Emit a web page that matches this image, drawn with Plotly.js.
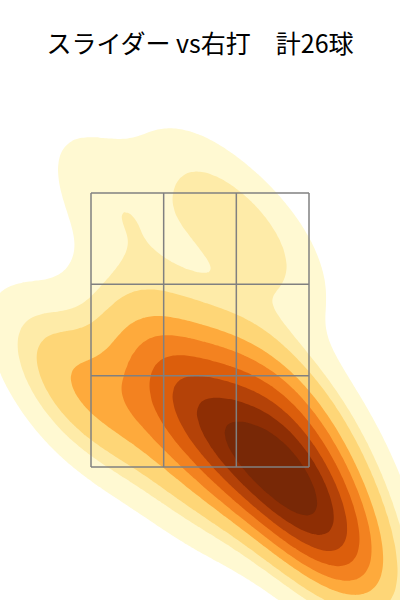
<!DOCTYPE html>
<html>
<head>
<meta charset="utf-8">
<script src="https://cdn.plot.ly/plotly-3.0.1.min.js"></script>
<style>html,body{margin:0;padding:0;background:#fff;}#chart{width:400px;height:600px;}</style>
</head>
<body>
<div id="chart"></div>
<script>
// Pitch locations (feet): horizontal plate position and height
const pitchX = [-0.65, 0.04, 0.50, -0.38, -1.10, -0.88, -0.61, -0.30, -0.04, 0.11, 0.53, 0.76, -0.15,
                0.99, 1.10, 0.00, 0.23, 0.42, 0.27, 0.50, 0.65, 0.57, 0.80, 0.76, 0.95, 1.07];
const pitchY = [3.41, 3.45, 3.08, 2.43, 2.25, 1.95, 1.99, 2.14, 2.03, 2.39, 2.10, 1.95, 1.44,
                1.48, 0.82, 1.81, 1.66, 1.77, 1.48, 1.51, 1.62, 1.26, 1.33, 1.08, 1.19, 0.93];
// Strike zone
const zoneX = [-0.83, 0.83];
const zoneY = [1.5, 3.5];
// Fill colours for the 9 density bands (low to high)
const bandColors = ['#FFF9D2', '#FEEBA8', '#FED677', '#FEAA3C', '#F38220', '#DC5E0C', '#B44208', '#8E2E04', '#782806'];
const titleText = 'スライダー vs右打　計26球';
const thresh = 0.05, nLevels = 10;

// Gaussian KDE (Scott's rule, full covariance)
const n = pitchX.length;
const mx = pitchX.reduce((a,b)=>a+b,0)/n, my = pitchY.reduce((a,b)=>a+b,0)/n;
let sxx=0, syy=0, sxy=0;
for (let i=0;i<n;i++){const dx=pitchX[i]-mx, dy=pitchY[i]-my; sxx+=dx*dx; syy+=dy*dy; sxy+=dx*dy;}
sxx/= (n-1); syy/=(n-1); sxy/=(n-1);
const f2 = Math.pow(n, -2/6);
const cxx=sxx*f2, cyy=syy*f2, cxy=sxy*f2;
const det = cxx*cyy - cxy*cxy;
const ixx = cyy/det, iyy = cxx/det, ixy = -cxy/det;
const norm = 1/(n*2*Math.PI*Math.sqrt(det));

const NX=180, NY=240, x0=-2.4, x1=2.4, y0=-0.7, y1=5.4;
const gx=[], gy=[];
for (let i=0;i<NX;i++) gx.push(x0+(x1-x0)*i/(NX-1));
for (let j=0;j<NY;j++) gy.push(y0+(y1-y0)*j/(NY-1));
const dens=[]; const flat=[];
for (let j=0;j<NY;j++){
  const row=[];
  for (let i=0;i<NX;i++){
    let s=0;
    for (let k=0;k<n;k++){
      const dx=gx[i]-pitchX[k], dy=gy[j]-pitchY[k];
      s+=Math.exp(-0.5*(ixx*dx*dx+2*ixy*dx*dy+iyy*dy*dy));
    }
    row.push(s*norm); flat.push(s*norm);
  }
  dens.push(row);
}
// iso-proportion: mass lying at lower density than each cell
const sorted = flat.slice().sort((a,b)=>a-b);
const total = sorted.reduce((a,b)=>a+b,0);
const cum = new Array(sorted.length);
let acc=0;
for (let i=0;i<sorted.length;i++){ cum[i]=acc/total; acc+=sorted[i]; }
function propOf(v){
  let lo=0, hi=sorted.length-1;
  while(lo<hi){const mid=(lo+hi+1)>>1; if(sorted[mid]<=v) lo=mid; else hi=mid-1;}
  return cum[lo];
}
const zq = dens.map(r=>r.map(propOf));

const step = (1-thresh)/(nLevels-1);
const cs = [[0,'#ffffff']];
bandColors.forEach((c,i)=>cs.push([(i+1)/bandColors.length, c]));

const trace = {
  type:'contour', x:gx, y:gy, z:zq,
  contours:{start:thresh, end:thresh+step*(nLevels-2)+step*0.01, size:step, coloring:'fill', showlines:false},
  line:{width:0, smoothing:1},
  colorscale:cs, showscale:false, hoverinfo:'skip'
};

const shapes=[];
const lineStyle={color:'#808080', width:1.5};
for (let i=0;i<=3;i++){
  const xv = zoneX[0]+(zoneX[1]-zoneX[0])*i/3;
  shapes.push({type:'line', x0:xv, x1:xv, y0:zoneY[0], y1:zoneY[1], line:lineStyle});
  const yv = zoneY[0]+(zoneY[1]-zoneY[0])*i/3;
  shapes.push({type:'line', x0:zoneX[0], x1:zoneX[1], y0:yv, y1:yv, line:lineStyle});
}

const layout = {
  width:400, height:600,
  margin:{l:0,r:0,t:0,b:0},
  paper_bgcolor:'#ffffff', plot_bgcolor:'#ffffff',
  title:{text:titleText, x:0.5, xanchor:'center', y:1-44/600, yanchor:'middle', yref:'container',
         font:{family:'"Noto Sans CJK JP", sans-serif', size:25, color:'#000000'}},
  xaxis:{range:[-1.523,1.523], visible:false, fixedrange:true},
  yaxis:{range:[0.529,4.909], visible:false, fixedrange:true},
  shapes:shapes, showlegend:false
};
Plotly.newPlot('chart',[trace],layout,{staticPlot:true, displayModeBar:false});
</script>
</body>
</html>
